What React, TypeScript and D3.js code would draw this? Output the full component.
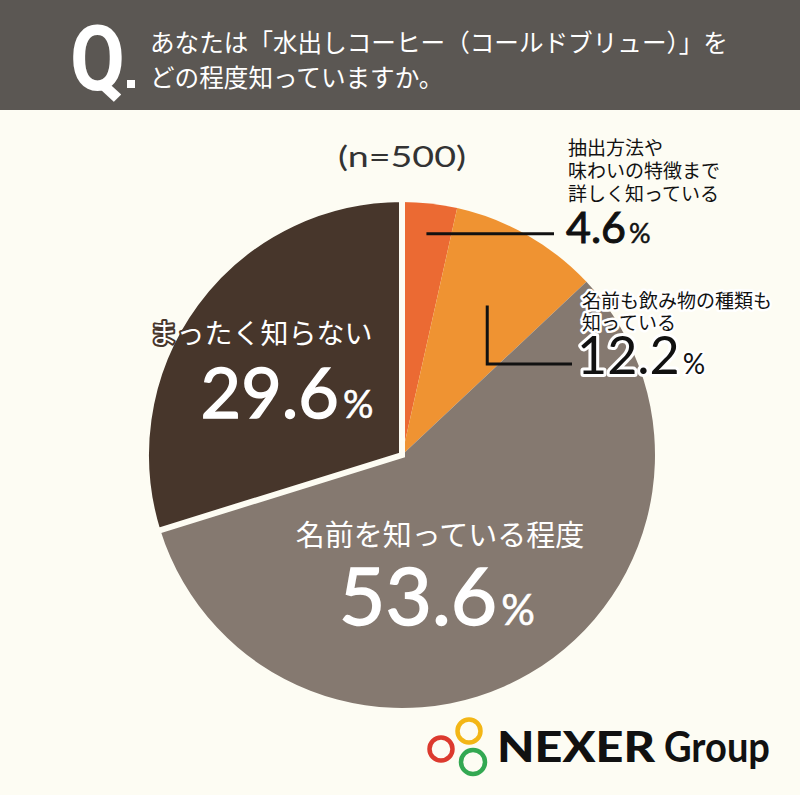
import React from "react";
import * as d3 from "d3";

const W = 800;
const H = 795;

// 設問
const questionLines = [
  "あなたは「水出しコーヒー（コールドブリュー）」を",
  "どの程度知っていますか。",
];
const sampleText = "(n=500)";

// 回答（12時の位置から時計回り）
const labelLines = [
  ["抽出方法や", "味わいの特徴まで", "詳しく知っている"],
  ["名前も飲み物の種類も", "知っている"],
  ["名前を知っている程度"],
  ["まったく知らない"],
];
const percentValues = [4.6, 12.2, 53.6, 29.6];
// 元の画像で描かれている扇形の大きさ（ラベルの数値とは比例していない）
const drawnShares = [3.5, 9.5, 57.2, 29.8];
const sliceColors = ["#eb6a33", "#ef9332", "#857970", "#47362b"];

const BG = "#fdfcf3";
const HEADER = "#5b5753";
const NUM_FONT = "Lato, 'Open Sans', sans-serif";
const JP_FONT = "'Noto Sans CJK JP', 'Noto Sans', sans-serif";

const cx = 402;
const cy = 455;
const R = 253;

export default function App() {
  const pie = d3
    .pie<number>()
    .sort(null)
    .value((d) => d)
    .startAngle(0)
    .endAngle(2 * Math.PI);
  const slices = pie(drawnShares);

  const arc = d3.arc<d3.PieArcDatum<number>>().innerRadius(0).outerRadius(R);
  const darkArc = d3
    .arc<d3.PieArcDatum<number>>()
    .innerRadius(0)
    .outerRadius(R + 3);
  // 引き出し線の起点（扇形の中）
  const pointAt = (d: d3.PieArcDatum<number>, k: number) =>
    d3
      .arc<d3.PieArcDatum<number>>()
      .innerRadius(R * k)
      .outerRadius(R * k)
      .centroid(d);

  const p0 = pointAt(slices[0], 0.88);
  const p1 = pointAt(slices[1], 0.68);

  const fmt = (v: number) => v.toFixed(1);

  return (
    <svg
      width={W}
      height={H}
      style={{ position: "absolute", left: 0, top: 0, display: "block" }}
    >
      <rect x={0} y={0} width={W} height={H} fill={BG} />

      {/* 見出し */}
      <rect x={0} y={0} width={W} height={110} fill={HEADER} />
      <text
        x={70}
        y={90}
        fill="#fff"
        fontFamily="Roboto, sans-serif"
        fontWeight={700}
        fontSize={90}
        textLength={55}
        lengthAdjust="spacingAndGlyphs"
      >
        Q
      </text>
      <rect x={127} y={80} width={8} height={8} fill="#fff" />
      <text fill="#fff" fontFamily={JP_FONT} fontSize={24.6}>
        {questionLines.map((t, i) => (
          <tspan key={i} x={150} y={52 + i * 35}>
            {t}
          </tspan>
        ))}
      </text>

      <text
        x={cx}
        y={167}
        textAnchor="middle"
        fill="#333"
        fontFamily={NUM_FONT}
        fontSize={28}
        textLength={128}
        lengthAdjust="spacingAndGlyphs"
      >
        {sampleText}
      </text>

      {/* 円グラフ */}
      <g transform={`translate(${cx},${cy})`}>
        {slices.slice(0, 3).map((d, i) => (
          <path key={i} d={arc(d) || ""} fill={sliceColors[i]} />
        ))}
        <path
          d={darkArc(slices[3]) || ""}
          fill={sliceColors[3]}
          stroke={BG}
          strokeWidth={6}
          strokeLinejoin="miter"
        />

        {/* 引き出し線 */}
        <line
          x1={p0[0]}
          y1={p0[1]}
          x2={554 - cx}
          y2={p0[1]}
          stroke="#111"
          strokeWidth={3}
        />
        <polyline
          points={`${p1[0]},${p1[1]} ${p1[0]},${364 - cy} ${572 - cx},${364 - cy}`}
          fill="none"
          stroke="#111"
          strokeWidth={3}
        />
      </g>

      {/* 4.6% */}
      <text fill="#111" fontFamily={JP_FONT} fontSize={19}>
        {labelLines[0].map((t, i) => (
          <tspan key={i} x={568} y={155 + i * 23}>
            {t}
          </tspan>
        ))}
        <tspan
          x={566}
          y={243}
          fontFamily={NUM_FONT}
          fontSize={43}
          stroke="#111"
          strokeWidth={1}
        >
          {fmt(percentValues[0])}
        </tspan>
        <tspan fontFamily={NUM_FONT} fontSize={27} dx={3} stroke="#111" strokeWidth={0.5}>
          %
        </tspan>
      </text>

      {/* 12.2% */}
      <text
        fill="#111"
        stroke="#fff"
        strokeLinejoin="round"
        style={{ paintOrder: "stroke" }}
        fontFamily={JP_FONT}
        fontSize={19}
        strokeWidth={5}
      >
        {labelLines[1].map((t, i) => (
          <tspan key={i} x={582} y={308 + i * 22}>
            {t}
          </tspan>
        ))}
        <tspan x={577} y={374} fontFamily={NUM_FONT} fontSize={52} strokeWidth={6}>
          {fmt(percentValues[1])}
        </tspan>
        <tspan fontFamily={NUM_FONT} fontSize={28} dx={3} strokeWidth={5}>
          %
        </tspan>
      </text>

      {/* 53.6% */}
      <text fill="#fff" fontFamily={JP_FONT} fontSize={29} textAnchor="middle">
        <tspan x={440} y={546}>
          {labelLines[2][0]}
        </tspan>
      </text>
      <text
        x={437}
        y={625}
        textAnchor="middle"
        fill="#fff"
        stroke="#fff"
        strokeWidth={1.5}
        fontFamily={NUM_FONT}
        fontSize={80}
      >
        {fmt(percentValues[2])}
        <tspan fontSize={42} dx={4} strokeWidth={0.6}>
          %
        </tspan>
      </text>

      {/* 29.6% */}
      <text
        x={261}
        y={344}
        textAnchor="middle"
        fill="#fff"
        stroke={sliceColors[3]}
        strokeWidth={4}
        strokeLinejoin="round"
        style={{ paintOrder: "stroke" }}
        fontFamily={JP_FONT}
        fontSize={28}
      >
        {labelLines[3][0]}
      </text>
      <text
        x={287}
        y={418}
        textAnchor="middle"
        fill="#fff"
        stroke="#fff"
        strokeWidth={1.4}
        fontFamily={NUM_FONT}
        fontSize={70}
      >
        {fmt(percentValues[3])}
        <tspan fontSize={38} dx={4} strokeWidth={0.6}>
          %
        </tspan>
      </text>

      {/* ロゴ */}
      <g fill="none" strokeWidth={4.5}>
        <circle cx={441} cy={749} r={11.5} stroke="#dc3a2e" />
        <circle cx={469} cy={731} r={11.5} stroke="#f3b616" />
        <circle cx={473} cy={762} r={12} stroke="#33a852" />
      </g>
      <text
        x={497}
        y={762}
        fill="#111"
        fontFamily={NUM_FONT}
        fontWeight={900}
        fontSize={42}
        textLength={158}
        lengthAdjust="spacingAndGlyphs"
      >
        NEXER
      </text>
      <text
        x={664}
        y={762}
        fill="#111"
        fontFamily={NUM_FONT}
        fontWeight={700}
        fontSize={42}
        textLength={106}
        lengthAdjust="spacingAndGlyphs"
      >
        Group
      </text>
    </svg>
  );
}
